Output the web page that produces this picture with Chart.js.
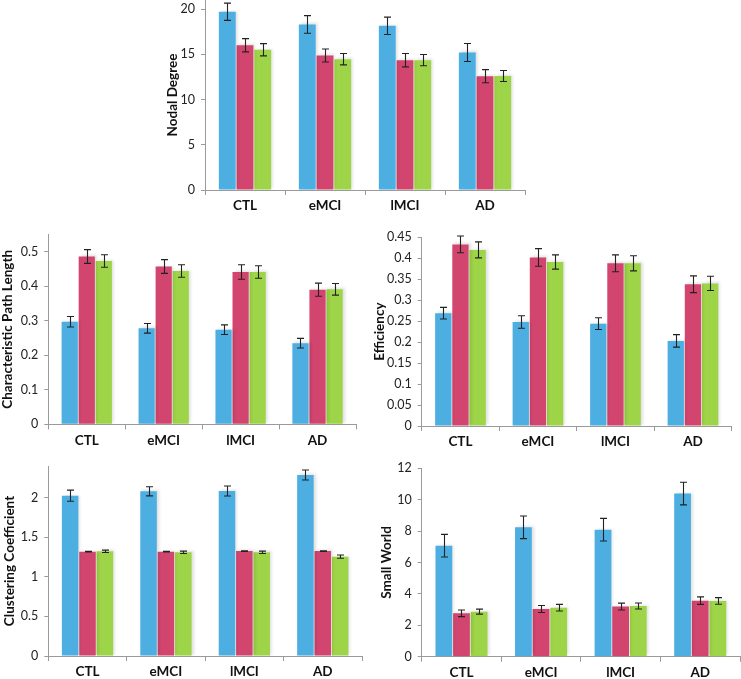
<!DOCTYPE html>
<html>
<head>
<meta charset="utf-8">
<script src="https://cdn.jsdelivr.net/npm/chart.js@4.4.1/dist/chart.umd.min.js"></script>
<style>
  html, body { margin: 0; padding: 0; background: #fff; width: 741px; height: 679px; overflow: hidden; position: relative; }
  canvas { position: absolute; }
</style>
</head>
<body>
<script>
const categories = ['CTL', 'eMCI', 'lMCI', 'AD'];
const seriesNames = ['Series A', 'Series B', 'Series C'];

// Nodal Degree
const ndA = [19.7, 18.3, 18.15, 15.2];
const ndB = [16.0, 14.87, 14.35, 12.58];
const ndC = [15.5, 14.46, 14.35, 12.6];
const ndAErr = [0.95, 0.97, 0.96, 1.0];
const ndBErr = [0.73, 0.72, 0.74, 0.72];
const ndCErr = [0.68, 0.63, 0.62, 0.6];
const ndTicks = [0, 5, 10, 15, 20];

// Characteristic Path Length
const cplA = [0.297, 0.278, 0.274, 0.235];
const cplB = [0.486, 0.457, 0.441, 0.39];
const cplC = [0.473, 0.444, 0.441, 0.391];
const cplAErr = [0.015, 0.014, 0.014, 0.014];
const cplBErr = [0.02, 0.02, 0.021, 0.019];
const cplCErr = [0.018, 0.018, 0.018, 0.017];
const cplTicks = [0, 0.1, 0.2, 0.3, 0.4, 0.5];

// Efficiency
const effA = [0.269, 0.248, 0.244, 0.203];
const effB = [0.433, 0.402, 0.388, 0.338];
const effC = [0.42, 0.391, 0.388, 0.34];
const effAErr = [0.014, 0.015, 0.014, 0.015];
const effBErr = [0.02, 0.021, 0.02, 0.02];
const effCErr = [0.019, 0.017, 0.018, 0.017];
const effTicks = [0, 0.05, 0.1, 0.15, 0.2, 0.25, 0.3, 0.35, 0.4, 0.45];

// Clustering Coefficient
const ccA = [2.025, 2.08, 2.084, 2.286];
const ccB = [1.318, 1.318, 1.326, 1.326];
const ccC = [1.322, 1.31, 1.31, 1.255];
const ccAErr = [0.07, 0.057, 0.063, 0.063];
const ccBErr = [0.004, 0.004, 0.004, 0.004];
const ccCErr = [0.015, 0.015, 0.015, 0.02];
const ccTicks = [0, 0.5, 1, 1.5, 2];

// Small World
const swA = [7.07, 8.24, 8.09, 10.39];
const swB = [2.76, 3.04, 3.19, 3.57];
const swC = [2.87, 3.12, 3.23, 3.55];
const swAErr = [0.72, 0.72, 0.72, 0.72];
const swBErr = [0.21, 0.22, 0.22, 0.24];
const swCErr = [0.16, 0.21, 0.19, 0.21];
const swTicks = [0, 2, 4, 6, 8, 10, 12];

const colors = ['#4DAEE2', '#D2456F', '#9ED447'];
const FONT = 'Lato, "Open Sans", sans-serif';

// layout of each panel: chart-area box in page pixels
const panels = [
  { title: 'Nodal Degree', vals: [ndA, ndB, ndC], errs: [ndAErr, ndBErr, ndCErr], ticks: ndTicks, max: 21,
    x0: 205, x1: 525, y0: 0, y1: 190, titleX: 173 },
  { title: 'Characteristic Path Length', vals: [cplA, cplB, cplC], errs: [cplAErr, cplBErr, cplCErr], ticks: cplTicks, max: 0.55,
    x0: 48.3, x1: 356, y0: 234.4, y1: 424.3, titleX: 8 },
  { title: 'Efficiency', vals: [effA, effB, effC], errs: [effAErr, effBErr, effCErr], ticks: effTicks, max: 0.45,
    x0: 421.7, x1: 731.7, y0: 237.3, y1: 426, titleX: 380 },
  { title: 'Clustering Coefficient', vals: [ccA, ccB, ccC], errs: [ccAErr, ccBErr, ccCErr], ticks: ccTicks, max: 2.4,
    x0: 48.3, x1: 362, y0: 466, y1: 656, titleX: 10 },
  { title: 'Small World', vals: [swA, swB, swC], errs: [swAErr, swBErr, swCErr], ticks: swTicks, max: 12,
    x0: 421.7, x1: 740, y0: 468.3, y1: 656.7, titleX: 386.7 }
];

const errorBarPlugin = {
  id: 'errorBars',
  beforeDatasetsDraw(chart) {
    const ctx = chart.ctx;
    ctx.save();
    ctx.shadowColor = 'rgba(0,0,0,0.13)';
    ctx.shadowBlur = 3;
    ctx.shadowOffsetX = 2;
    ctx.shadowOffsetY = -1;
  },
  afterDatasetsDraw(chart) {
    const ctx = chart.ctx;
    ctx.restore();
    const yScale = chart.scales.y;
    ctx.save();
    ctx.strokeStyle = '#222';
    ctx.lineWidth = 1.1;
    chart.data.datasets.forEach((ds, di) => {
      const meta = chart.getDatasetMeta(di);
      meta.data.forEach((bar, i) => {
        const v = ds.data[i], e = ds.errs[i];
        const x = Math.round(bar.x) + 0.5;
        const yt = yScale.getPixelForValue(v + e);
        const yb = yScale.getPixelForValue(v - e);
        ctx.beginPath();
        ctx.moveTo(x, yt); ctx.lineTo(x, yb);
        ctx.moveTo(x - 3.5, yt); ctx.lineTo(x + 3.5, yt);
        ctx.moveTo(x - 3.5, yb); ctx.lineTo(x + 3.5, yb);
        ctx.stroke();
      });
    });
    ctx.restore();
  }
};

const PAD_TOP = 8, PAD_RIGHT = 1, X_H = 32, TITLE_FONT = 13.5;

panels.forEach(p => {
  const titleLH = TITLE_FONT * 1.2;
  const left = Math.round(p.titleX - titleLH / 2);
  const yW = p.x0 - left;
  const top = Math.floor(p.y0 - PAD_TOP);
  const padTop = p.y0 - top;
  const width = Math.ceil(yW + (p.x1 - p.x0) + PAD_RIGHT);
  const padRight = width - yW - (p.x1 - p.x0);
  const height = Math.ceil(padTop + (p.y1 - p.y0) + X_H);
  const xH = height - padTop - (p.y1 - p.y0);

  const canvas = document.createElement('canvas');
  canvas.width = width; canvas.height = height;
  canvas.style.left = left + 'px';
  canvas.style.top = top + 'px';
  canvas.style.width = width + 'px';
  canvas.style.height = height + 'px';
  document.body.appendChild(canvas);

  new Chart(canvas, {
    type: 'bar',
    data: {
      labels: categories,
      datasets: p.vals.map((vals, k) => ({
        label: seriesNames[k],
        data: vals,
        errs: p.errs[k],
        backgroundColor: colors[k],
        borderWidth: 0,
        barPercentage: 0.95,
        categoryPercentage: 0.665
      }))
    },
    options: {
      responsive: false,
      animation: false,
      devicePixelRatio: 1,
      layout: { padding: { top: padTop, right: padRight, left: 0, bottom: 0 } },
      plugins: { legend: { display: false }, tooltip: { enabled: false } },
      scales: {
        x: {
          grid: { display: true, drawOnChartArea: false, drawTicks: true, tickLength: 5, offset: true, color: '#9a9a9a', tickColor: '#9a9a9a' },
          border: { color: '#9a9a9a', width: 1 },
          ticks: { color: '#111', font: { family: FONT, size: 13.5, weight: 'bold' }, padding: 3, maxRotation: 0 },
          afterFit(s) { s.height = xH; s.paddingLeft = 0; s.paddingRight = 0; }
        },
        y: {
          min: 0, max: p.max,
          grid: { display: true, drawOnChartArea: false, drawTicks: true, tickLength: 4, color: '#9a9a9a', tickColor: '#9a9a9a' },
          border: { color: '#9a9a9a', width: 1 },
          ticks: { color: '#222', font: { family: FONT, size: 12.5 }, padding: 6,
                   callback: (v) => String(+(+v).toFixed(3)) },
          title: { display: true, text: p.title, color: '#111', padding: { top: 0, bottom: 0 },
                   font: { family: FONT, size: TITLE_FONT, weight: 'bold' } },
          afterBuildTicks(s) { s.ticks = p.ticks.map(v => ({ value: v })); },
          afterFit(s) { s.width = yW; s.paddingTop = 0; s.paddingBottom = 0; }
        }
      }
    },
    plugins: [errorBarPlugin]
  });
});
</script>
</body>
</html>
